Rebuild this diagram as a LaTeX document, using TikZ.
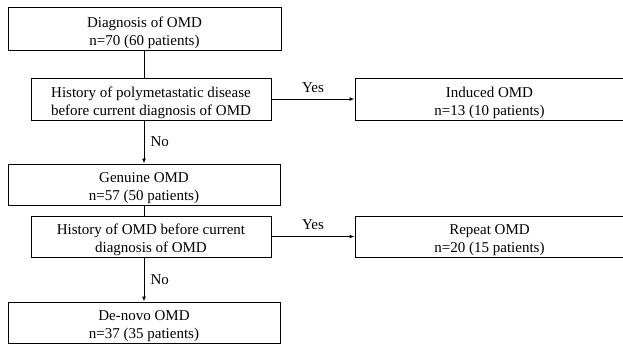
\documentclass[tikz,border=0pt]{standalone}
\usepackage{fontspec}
\setmainfont{Liberation Serif}
\usetikzlibrary{arrows.meta}
\begin{document}
\begin{tikzpicture}[x=1pt,y=-1pt,
  box/.style={draw=black,line width=1pt,inner sep=0pt},
  txt/.style={align=center,inner sep=0pt,yshift=-3.5pt,
    font=\fontsize{15pt}{18pt}\selectfont},
  lbl/.style={font=\fontsize{15pt}{18pt}\selectfont},
  conn/.style={line width=1pt},
  arr/.style={line width=1pt,-{Latex[length=5pt,width=4pt]}}]
\useasboundingbox (0,0) rectangle (623,345);
\clip (0,0) rectangle (623,345);
\node[box,minimum width=273pt,minimum height=42.5pt] (b1) at (144.5,29.25) {};
\node[box,minimum width=240pt,minimum height=42pt] (b2) at (151,99) {};
\node[box,minimum width=269pt,minimum height=42pt] (ind) at (489.5,99) {};
\node[box,minimum width=272pt,minimum height=41pt] (b3) at (144,184.5) {};
\node[box,minimum width=240pt,minimum height=41pt] (b4) at (151,236.5) {};
\node[box,minimum width=269pt,minimum height=41pt] (rep) at (489.5,236.5) {};
\node[box,minimum width=272pt,minimum height=41pt] (b5) at (144,322.5) {};
\node[txt] (b1t) at (b1.center) {Diagnosis of OMD\\n=70 (60 patients)};
\node[txt] (b2t) at (b2.center) {History of polymetastatic disease\\before current diagnosis of OMD};
\node[txt] (indt) at (ind.center) {Induced OMD\\n=13 (10 patients)};
\node[txt] (b3t) at (b3.center) {Genuine OMD\\n=57 (50 patients)};
\node[txt] (b4t) at (b4.center) {History of OMD before current\\diagnosis of OMD};
\node[txt] (rept) at (rep.center) {Repeat OMD\\n=20 (15 patients)};
\node[txt] (b5t) at (b5.center) {De-novo OMD\\n=37 (35 patients)};
\draw[conn] (b3.north |- b1.south) -- (b3.north |- b2.north);
\draw[arr] (b3.north |- b2.south) -- node[lbl,right,inner sep=6pt] {No} (b3.north);
\draw[arr] (b2.east) -- node[lbl,above,inner sep=6pt] {Yes} (ind.west);
\draw[conn] (b3.south) -- (b3.south |- b4.north);
\draw[arr] (b5.north |- b4.south) -- node[lbl,right,inner sep=6pt] {No} (b5.north);
\draw[arr] (b4.east) -- node[lbl,above,inner sep=6pt] {Yes} (rep.west);
\end{tikzpicture}
\end{document}
